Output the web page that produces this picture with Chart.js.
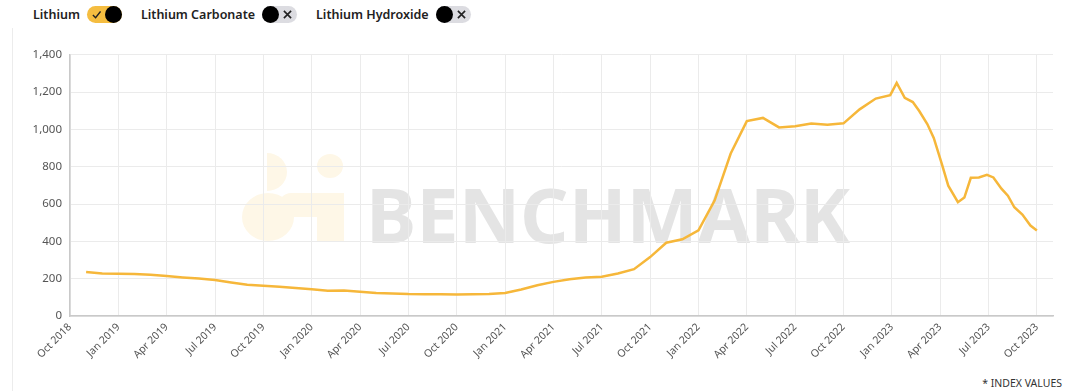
<!DOCTYPE html>
<html lang="en">
<head>
  <meta charset="UTF-8" />
  <title>Lithium Price Index</title>
  <script src="https://cdn.jsdelivr.net/npm/chart.js@4.4.1/dist/chart.umd.min.js"></script>
  <style>
    html,body{margin:0;padding:0;background:#fff}
    body{width:1080px;height:391px;position:relative;overflow:hidden;font-family:"Noto Sans",sans-serif;color:#222}
    .frame{position:absolute;left:12px;top:28px;bottom:0;border-left:1px solid #ececec}
    .legend{position:absolute;left:33px;top:6px;height:17px;display:flex;align-items:center;font-size:12.5px;font-weight:600;color:#222}
    .item{display:flex;align-items:center;margin-right:19px}
    .pill{position:relative;width:35px;height:17px;border-radius:9px;margin-left:7px}
    .pill.on{background:#f5bd40}
    .pill.off{background:#dcdce1}
    .knob{position:absolute;top:0;width:17px;height:17px;border-radius:50%;background:#000}
    .on .knob{right:0}
    .off .knob{left:0}
    .pill svg{position:absolute;top:4px;width:9px;height:9px}
    .on svg{left:5px}
    .off svg{right:5px}
    #wm{position:absolute;left:0;top:0}
    #wrap{position:absolute;left:0;top:40px;width:1080px;height:335px}
    .note{position:absolute;right:18px;top:376px;font-size:10.5px;color:#333}
  </style>
</head>
<body>
  <div class="frame"></div>
  <div class="legend">
    <div class="item">Lithium<div class="pill on"><svg viewBox="0 0 10 10"><path d="M1 5.5 L4 8.5 L9.5 1.5" stroke="#222" stroke-width="1.6" fill="none"/></svg><div class="knob"></div></div></div>
    <div class="item">Lithium Carbonate<div class="pill off"><div class="knob"></div><svg viewBox="0 0 10 10"><path d="M1 1 L9 9 M9 1 L1 9" stroke="#222" stroke-width="1.8"/></svg></div></div>
    <div class="item">Lithium Hydroxide<div class="pill off"><div class="knob"></div><svg viewBox="0 0 10 10"><path d="M1 1 L9 9 M9 1 L1 9" stroke="#222" stroke-width="1.8"/></svg></div></div>
  </div>
  <svg id="wm" width="1080" height="391">
    <g fill="#fef7e7">
      <ellipse cx="330" cy="166" rx="13" ry="12"/>
      <rect x="317" y="193" width="27" height="48"/>
      <path d="M267 153 a20 19 0 0 1 0 38 Z"/>
      <ellipse cx="268" cy="217" rx="26" ry="24"/>
      <path d="M291 193 h40 v24 h-40 a12 12 0 0 1 0 -24 Z"/>
    </g>
    <text x="366" y="243" textLength="484" lengthAdjust="spacingAndGlyphs" font-family="Noto Sans" font-weight="700" font-size="76" fill="#e4e4e4">BENCHMARK</text>
  </svg>
  <div id="wrap"><canvas id="chart" width="1080" height="335"></canvas></div>
  <div class="note">* INDEX VALUES</div>
<script>
  // price index, monthly to Dec 2022 then roughly fortnightly
  const dates = [
    '2018-11-01','2018-12-01','2019-01-01','2019-02-01','2019-03-01','2019-04-01','2019-05-01','2019-06-01',
    '2019-07-01','2019-08-01','2019-09-01','2019-10-01','2019-11-01','2019-12-01','2020-01-01','2020-02-01',
    '2020-03-01','2020-04-01','2020-05-01','2020-06-01','2020-07-01','2020-08-01','2020-09-01','2020-10-01',
    '2020-11-01','2020-12-01','2021-01-01','2021-02-01','2021-03-01','2021-04-01','2021-05-01','2021-06-01',
    '2021-07-01','2021-08-01','2021-09-01','2021-10-01','2021-11-01','2021-12-01','2022-01-01','2022-02-01',
    '2022-03-01','2022-04-01','2022-05-01','2022-06-01','2022-07-01','2022-08-01','2022-09-01','2022-10-01',
    '2022-11-01','2022-12-01','2022-12-28','2023-01-10','2023-01-25','2023-02-10','2023-02-22','2023-03-07',
    '2023-03-19','2023-04-04','2023-04-16','2023-05-04','2023-05-16','2023-05-28','2023-06-13','2023-06-28',
    '2023-07-10','2023-07-25','2023-08-07','2023-08-19','2023-09-04','2023-09-19','2023-10-01'
  ];
  const lithium = [
    236,228,226,225,221,214,207,201,
    193,180,168,162,157,150,143,136,
    137,130,123,121,118,117,116,115,
    116,118,123,142,165,183,197,206,
    211,228,251,316,393,411,459,619,
    871,1045,1062,1011,1017,1032,1025,1033,
    1108,1166,1184,1250,1170,1147,1099,1029,
    955,816,699,610,635,741,743,757,
    743,683,645,583,544,485,459
  ];
  const monthNames = ['Oct','Nov','Dec','Jan','Feb','Mar','Apr','May','Jun','Jul','Aug','Sep'];
  const yTicks = [0,200,400,600,800,1000,1200,1400];

  // months since Oct 2018
  function toMonths(d){
    const [y,m,day]=d.split('-').map(Number);
    return (y-2018)*12+(m-10)+(day-1)/30;
  }
  function tickLabel(v){
    const year=2018+Math.floor((v+9)/12);
    return monthNames[v%12]+' '+year;
  }
  const points = dates.map((d,i)=>({x:toMonths(d),y:lithium[i]}));

  new Chart(document.getElementById('chart').getContext('2d'),{
    type:'line',
    data:{datasets:[{label:'Lithium',data:points,borderColor:'#f6b73a',borderWidth:2.5,pointRadius:0,tension:0,fill:false}]},
    options:{
      responsive:false,animation:false,
      layout:{padding:{top:13,right:27,left:0,bottom:0}},
      plugins:{legend:{display:false},tooltip:{enabled:false}},
      scales:{
        x:{
          type:'linear',min:0,max:61,
          afterFit:s=>{s.height=59;},
          grid:{color:'#ebebeb',drawTicks:false},
          border:{color:'#c9c9c9',width:1.5},
          ticks:{stepSize:3,includeBounds:false,autoSkip:false,maxRotation:45,minRotation:45,padding:5,
            color:'#555',font:{family:'Noto Sans',size:10.5},callback:v=>tickLabel(v)}
        },
        y:{
          min:yTicks[0],max:yTicks[yTicks.length-1],
          afterFit:s=>{s.width=70;},
          afterBuildTicks:s=>{s.ticks=yTicks.map(v=>({value:v}));},
          grid:{color:'#ebebeb',drawTicks:false},
          border:{color:'#c9c9c9',width:1.5},
          ticks:{padding:8,color:'#555',font:{family:'Noto Sans',size:11.5}}
        }
      }
    }
  });
</script>
</body>
</html>
